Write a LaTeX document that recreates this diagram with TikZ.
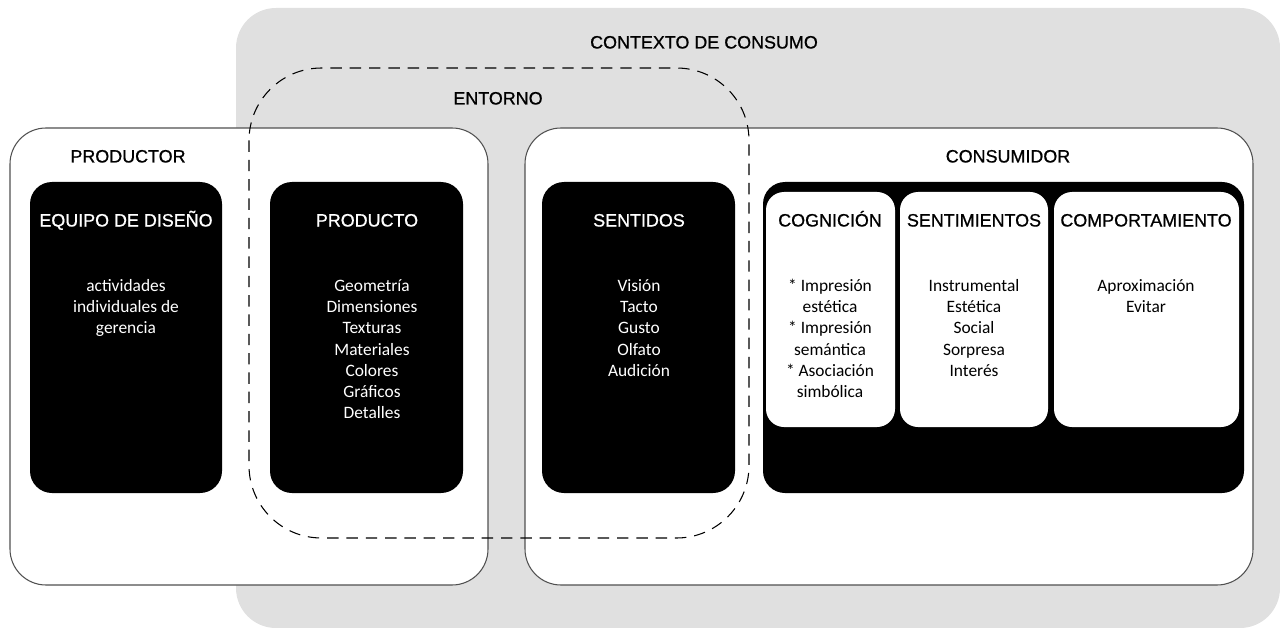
\documentclass[tikz,border=0pt]{standalone}
\usepackage{fontspec}
\setmainfont{Carlito}
\newfontfamily\headfont[FakeBold=0.8]{Liberation Sans}
\usepackage{xcolor}

\definecolor{contextgray}{HTML}{E0E0E0}
\definecolor{edgegray}{HTML}{505050}

\begin{document}
\begin{tikzpicture}[x=0.02cm,y=-0.02cm,
  bigbox/.style={draw=edgegray,line width=0.6pt,fill=white,rounded corners=0.72cm},
  darkbox/.style={fill=black,rounded corners=0.44cm},
  lightbox/.style={fill=white,rounded corners=0.36cm},
  title/.style={font=\headfont\fontsize{10.2}{12}\selectfont,anchor=base,inner sep=0pt},
  body/.style={font=\fontsize{9.9}{12.1}\selectfont,align=center,anchor=north,inner sep=0pt}]

\useasboundingbox (0,0) rectangle (1280,628);

% contexto de consumo
\fill[contextgray, rounded corners=0.8cm] (236,8) rectangle (1280,628);

\draw[bigbox] (10,128) rectangle (488,585);
\draw[bigbox] (525,128) rectangle (1253,585);

\fill[darkbox] (30,182) rectangle (222,493);
\fill[darkbox] (270,182) rectangle (463,493);
\fill[darkbox] (542,182) rectangle (735,493);
\fill[darkbox] (763,182) rectangle (1244,493);

\fill[lightbox] (766,192) rectangle (895,427);
\fill[lightbox] (900,192) rectangle (1048,427);
\fill[lightbox] (1054,192) rectangle (1239,427);

\node[title] (contexto) at (704,48.5) {CONTEXTO DE CONSUMO};
\node[title] (entorno) at (498,104.5) {ENTORNO};
\node[title] (productor) at (128,162.5) {PRODUCTOR};
\node[title] (consumidor) at (1008,162.5) {CONSUMIDOR};

\node[title, text=white] (equipo) at (126,226.5) {EQUIPO DE DISEÑO};
\node[title, text=white] (producto) at (367,226.5) {PRODUCTO};
\node[title, text=white] (sentidos) at (639,226.5) {SENTIDOS};
\node[title] (cognicion) at (830,226.5) {COGNICIÓN};
\node[title] (sentimientos) at (974,226.5) {SENTIMIENTOS};
\node[title] (comportamiento) at (1146,226.5) {COMPORTAMIENTO};

\node[body, text=white] (equipotxt) at (126,276)
{\strut actividades\\individuales de\\gerencia};
\node[body, text=white] (productotxt) at (372,276)
{\strut Geometría\\Dimensiones\\Texturas\\Materiales\\Colores\\Gráficos\\Detalles};
\node[body, text=white] (sentidostxt) at (639,276)
{\strut Visión\\Tacto\\Gusto\\Olfato\\Audición};
\node[body] (cogniciontxt) at (830,276)
{\strut * Impresión\\estética\\* Impresión\\semántica\\* Asociación\\simbólica};
\node[body] (sentimientostxt) at (974,276)
{\strut Instrumental\\Estética\\Social\\Sorpresa\\Interés};
\node[body] (comportamientotxt) at (1146,276)
{\strut Aproximación\\Evitar};

% entorno
\draw[black, line width=0.6pt, dash pattern=on 6.5pt off 4.5pt, rounded corners=1.45cm]
(249,68) rectangle (749,538);

\end{tikzpicture}
\end{document}
